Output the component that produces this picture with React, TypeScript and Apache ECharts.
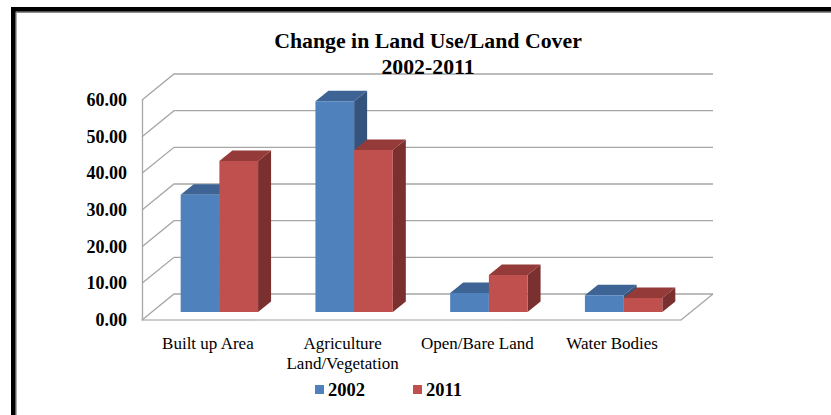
import React, { useEffect, useRef } from "react";
import * as echarts from "echarts";

const categories = ["Built up Area", "Agriculture\nLand/Vegetation", "Open/Bare Land", "Water Bodies"];
const values2002 = [32, 57.5, 5.2, 4.6];
const values2011 = [41.2, 44.2, 10.1, 3.8];
const yTicks = [0, 10, 20, 30, 40, 50, 60];
const titleText = "Change in Land Use/Land Cover\n2002-2011";

const SERIF = "'Liberation Serif', 'Times New Roman', serif";
const WALL_DX = 32;
const WALL_DY = 26;
const BAR_W = 38.7;
const BAR_DX = 13;
const BAR_DY = 10.5;
const BAR_SHIFT_X = 10;
const BAR_SHIFT_Y = 8;
const GRID = "#a6a6a6";

function gridRender(params: any, api: any) {
  const value = api.value(0);
  const [, y] = api.coord([0, value]);
  const cs = params.coordSys;
  const backY = y - WALL_DY;
  const backL = cs.x + WALL_DX;
  const backR = cs.x + cs.width + WALL_DX;
  const children: any[] = [
    {
      type: "polyline",
      shape: { points: [[cs.x, y], [backL, backY], [backR, backY]] },
      style: { fill: "none", stroke: GRID, lineWidth: 1.3 },
    },
  ];
  if (value === 0) {
    children.push({
      type: "line",
      shape: { x1: cs.x + cs.width, y1: y, x2: backR, y2: backY },
      style: { stroke: GRID, lineWidth: 1.3 },
    });
  }
  return { type: "group", children };
}

function barRender(side: number, front: string, top: string, right: string) {
  return (_params: any, api: any) => {
    const catIndex = api.value(0);
    const [cx, baseRaw] = api.coord([catIndex, 0]);
    const [, topRaw] = api.coord([catIndex, api.value(1)]);
    const x0 = cx + BAR_SHIFT_X + (side === 0 ? -BAR_W : 0);
    const x1 = x0 + BAR_W;
    const yb = baseRaw - BAR_SHIFT_Y;
    const yt = topRaw - BAR_SHIFT_Y;
    return {
      type: "group",
      children: [
        {
          type: "polygon",
          shape: { points: [[x1, yt], [x1 + BAR_DX, yt - BAR_DY], [x1 + BAR_DX, yb - BAR_DY], [x1, yb]] },
          style: { fill: right },
        },
        {
          type: "polygon",
          shape: { points: [[x0, yt], [x0 + BAR_DX, yt - BAR_DY], [x1 + BAR_DX, yt - BAR_DY], [x1, yt]] },
          style: { fill: top },
        },
        { type: "rect", shape: { x: x0, y: yt, width: BAR_W, height: yb - yt }, style: { fill: front } },
      ],
    };
  };
}

export default function App() {
  const ref = useRef<HTMLDivElement>(null);
  useEffect(() => {
    document.body.style.margin = "0";
    const chart = echarts.init(ref.current!, undefined, { renderer: "svg" });
    chart.setOption({
      animation: false,
      backgroundColor: "#ffffff",
      textStyle: { fontFamily: SERIF },
      title: {
        text: titleText,
        left: 423,
        top: 23,
        textAlign: "center",
        z: 20,
        textStyle: { fontFamily: SERIF, fontSize: 21.8, fontWeight: "bold", color: "#000", lineHeight: 26 },
      },
      legend: {
        data: ["2002", "2011"],
        left: 310,
        top: 375,
        itemWidth: 9,
        itemHeight: 9,
        itemGap: 48,
        icon: "rect",
        textStyle: { fontFamily: SERIF, fontSize: 18.5, fontWeight: "bold", color: "#000", padding: [0, 0, 0, -1] },
      },
      grid: { left: 142, top: 100, width: 539, height: 220 },
      xAxis: {
        type: "category",
        data: categories,
        axisLine: { show: true, lineStyle: { color: "#bfbfbf", width: 1.5 } },
        axisTick: { show: false },
        axisLabel: { color: "#000", fontFamily: SERIF, fontSize: 17, margin: 13, lineHeight: 20, interval: 0, padding: [0, 3, 0, 0] },
      },
      yAxis: {
        type: "value",
        min: 0,
        max: 60,
        interval: 10,
        axisLine: { show: true, lineStyle: { color: GRID, width: 1.3 } },
        axisTick: { show: false },
        splitLine: { show: false },
        axisLabel: {
          color: "#000",
          fontFamily: SERIF,
          fontSize: 18,
          fontWeight: "bold",
          margin: 15,
          padding: [2, 0, 0, 0],
          formatter: (v: number) => v.toFixed(2),
        },
      },
      series: [
        {
          name: "walls",
          type: "custom",
          renderItem: gridRender,
          data: yTicks.map((v) => [v]),
          encode: { y: 0 },
          clip: false,
          silent: true,
          z: 1,
        },
        {
          name: "2002",
          type: "custom",
          renderItem: barRender(0, "#4f81bd", "#3d6494", "#34547d"),
          data: values2002.map((v, i) => [i, v]),
          encode: { x: 0, y: 1 },
          itemStyle: { color: "#4f81bd" },
          clip: false,
          z: 3,
        },
        {
          name: "2011",
          type: "custom",
          renderItem: barRender(1, "#c0504d", "#943a38", "#7a302e"),
          data: values2011.map((v, i) => [i, v]),
          encode: { x: 0, y: 1 },
          itemStyle: { color: "#c0504d" },
          clip: false,
          z: 4,
        },
      ],
      graphic: [
        { type: "rect", z: 30, shape: { x: 11, y: 7, width: 820, height: 4.7 }, style: { fill: "#000" } },
        { type: "rect", z: 30, shape: { x: 15.5, y: 11.7, width: 815.5, height: 1.2 }, style: { fill: "#8c8c8c" } },
        { type: "rect", z: 30, shape: { x: 11, y: 7, width: 4.7, height: 408 }, style: { fill: "#000" } },
        { type: "rect", z: 30, shape: { x: 15.7, y: 11.7, width: 1, height: 403.3 }, style: { fill: "#8c8c8c" } },
      ],
    });
    return () => chart.dispose();
  }, []);
  return <div ref={ref} style={{ width: 831, height: 415 }} />;
}
